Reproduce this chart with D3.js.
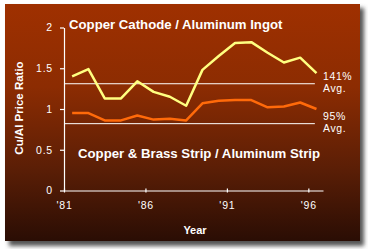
<!DOCTYPE html>
<html>
<head>
<meta charset="utf-8">
<script src="https://cdn.jsdelivr.net/npm/d3@7"></script>
<style>
  body { margin: 0; background: #fff; }
  text { font-family: Arial, "Liberation Sans", sans-serif; fill: #fff; }
</style>
</head>
<body>
<div id="chart"></div>
<script>
const years = d3.range(1981, 1997);
const cathodeRatio = [1.40, 1.49, 1.13, 1.13, 1.34, 1.21, 1.15, 1.04, 1.48, 1.65, 1.81, 1.82, 1.69, 1.57, 1.63, 1.44];
const stripRatio = [0.95, 0.95, 0.86, 0.86, 0.92, 0.87, 0.88, 0.86, 1.07, 1.10, 1.11, 1.11, 1.02, 1.03, 1.08, 1.00];
const avgLevels = [1.31, 0.82];
const avgLabels = ["141%", "95%"];
const yTicks = [0, 0.5, 1, 1.5, 2];
const xTicks = [1981, 1986, 1991, 1996];

const W = 368, H = 249;
const svg = d3.select("#chart").append("svg")
    .attr("width", W)
    .attr("height", H);

const defs = svg.append("defs");
const grad = defs.append("linearGradient")
    .attr("id", "bg")
    .attr("x1", 0).attr("y1", 0).attr("x2", 0).attr("y2", 1);
grad.append("stop").attr("offset", "0%").attr("stop-color", "#9f3000");
grad.append("stop").attr("offset", "35%").attr("stop-color", "#8c2c02");
grad.append("stop").attr("offset", "70%").attr("stop-color", "#5a1e06");
grad.append("stop").attr("offset", "100%").attr("stop-color", "#2a0d04");

const shadow = defs.append("filter").attr("id", "blur")
    .attr("x", "-10%").attr("y", "-10%").attr("width", "120%").attr("height", "120%");
shadow.append("feGaussianBlur").attr("stdDeviation", 2);

// panel + shadow
svg.append("rect")
    .attr("x", 9).attr("y", 8).attr("width", 355).attr("height", 238)
    .attr("fill", "#555").attr("filter", "url(#blur)");
svg.append("rect")
    .attr("x", 5).attr("y", 4).attr("width", 355).attr("height", 237)
    .attr("fill", "url(#bg)");

const x = d3.scaleLinear().domain([1981, 1996.9]).range([64, 323]);
const y = d3.scaleLinear().domain([0, 2]).range([190.5, 27.5]);

const xAxis = d3.axisBottom(x)
    .tickValues(xTicks)
    .tickFormat(d => "'" + String(d).slice(2))
    .tickSize(4)
    .tickPadding(7)
    .tickSizeOuter(0);
const yAxis = d3.axisLeft(y)
    .tickValues(yTicks)
    .tickFormat(d => d)
    .tickSize(4)
    .tickPadding(7)
    .tickSizeOuter(0);

const xAxisG = svg.append("g")
    .attr("transform", `translate(0, ${y(0)})`)
    .call(xAxis);
xAxisG.selectAll(".tick line").attr("transform", "translate(0,-2)");
const yAxisG = svg.append("g")
    .attr("transform", `translate(${x(1981)}, 0)`)
    .call(yAxis);

svg.selectAll(".domain, .tick line").attr("stroke", "#fff").attr("stroke-width", 1.2);
svg.selectAll(".tick text")
    .attr("fill", "#fff")
    .style("font-size", "10.5px")
    .style("letter-spacing", "0.8px")
    .style("font-family", "Arial, 'Liberation Sans', sans-serif");

// average lines
svg.selectAll(".avg")
    .data(avgLevels)
    .join("line")
    .attr("class", "avg")
    .attr("x1", x(1981)).attr("x2", x(1996.4))
    .attr("y1", d => y(d)).attr("y2", d => y(d))
    .attr("stroke", "#fff").attr("stroke-width", 1);

avgLevels.forEach(function(v, i) {
    const t = svg.append("text")
        .style("font-size", "10.5px")
        .style("letter-spacing", "0.6px");
    t.append("tspan").attr("x", 323).attr("y", y(v) - 4).text(avgLabels[i]);
    t.append("tspan").attr("x", 323).attr("y", y(v) + 8).text("Avg.");
});

const line = d3.line()
    .x((d, i) => x(years[i] + 0.5))
    .y(d => y(d));

svg.append("path")
    .datum(stripRatio)
    .attr("d", line)
    .attr("fill", "none")
    .attr("stroke", "#ff6a0a")
    .attr("stroke-width", 2.5)
    .attr("stroke-linejoin", "round");

svg.append("path")
    .datum(cathodeRatio)
    .attr("d", line)
    .attr("fill", "none")
    .attr("stroke", "#ffff80")
    .attr("stroke-width", 2.5)
    .attr("stroke-linejoin", "round");

// series labels
svg.append("text")
    .attr("x", 69).attr("y", 29)
    .style("font-size", "13.2px").style("font-weight", "bold")
    .text("Copper Cathode / Aluminum Ingot");
svg.append("text")
    .attr("x", 78).attr("y", 158)
    .style("font-size", "13.2px").style("font-weight", "bold")
    .text("Copper & Brass Strip / Aluminum Strip");

// axis titles
svg.append("text")
    .attr("x", 195).attr("y", 234)
    .attr("text-anchor", "middle")
    .style("font-size", "11px").style("font-weight", "bold")
    .text("Year");
svg.append("text")
    .attr("transform", "translate(23, 108) rotate(-90)")
    .attr("text-anchor", "middle")
    .style("font-size", "11.5px").style("font-weight", "bold")
    .text("Cu/Al Price Ratio");
</script>
</body>
</html>
